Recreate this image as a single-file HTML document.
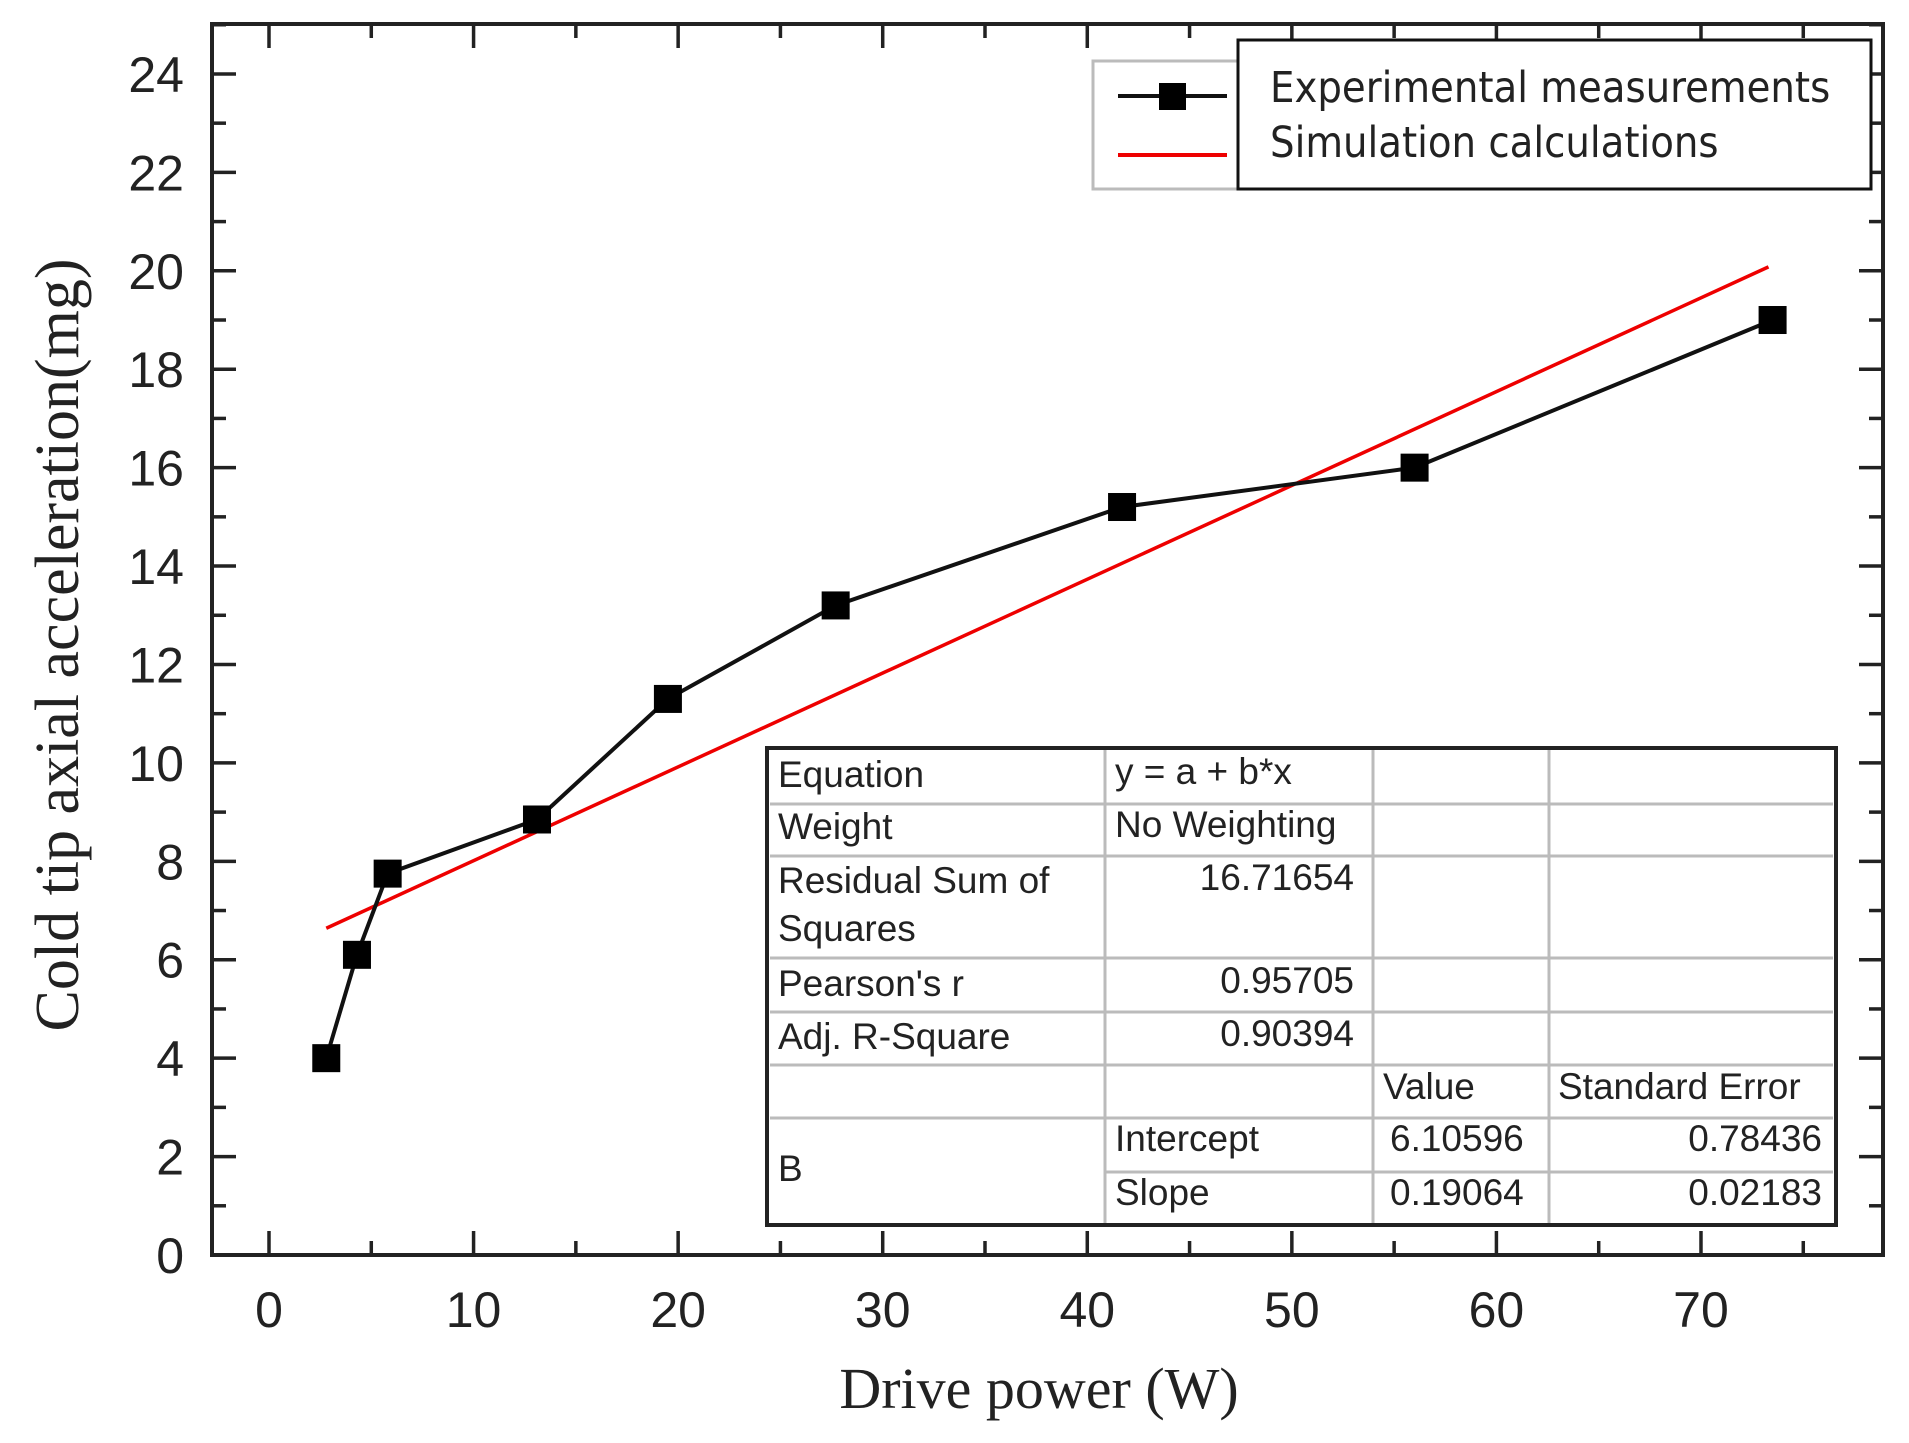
<!DOCTYPE html>
<html><head><meta charset="utf-8"><style>
html,body{margin:0;padding:0;background:#fff;}
svg{display:block;}
.t{font-family:"Liberation Sans",Arial,sans-serif;}
.s{font-family:"Liberation Serif",serif;}
</style></head><body>
<svg id="c" width="1909" height="1443" viewBox="0 0 1909 1443" xmlns="http://www.w3.org/2000/svg">
<rect x="0" y="0" width="1909" height="1443" fill="#fff"/>
<g id="ticks" stroke="#222" stroke-width="3.5"></g>
<rect x="212" y="24" width="1671" height="1231" fill="none" stroke="#222" stroke-width="4"/>
<g id="labels" class="t" font-size="50" fill="#222"></g>
<text class="s" x="1039" y="1408" font-size="58" text-anchor="middle" fill="#222">Drive power (W)</text>
<text class="s" x="0" y="0" font-size="62" text-anchor="middle" fill="#222" transform="translate(78,645) rotate(-90)">Cold tip axial acceleration(mg)</text>
<g id="series"></g>
<!-- legend -->
<rect x="1093" y="61" width="778" height="128" fill="#fff" stroke="#bbb" stroke-width="3"/>
<line x1="1118" y1="96" x2="1227" y2="96" stroke="#111" stroke-width="4"/>
<rect x="1159" y="83" width="27" height="27" fill="#000"/>
<line x1="1118" y1="155" x2="1227" y2="155" stroke="#e00" stroke-width="4"/>
<rect x="1238" y="40" width="633" height="149" fill="#fff" stroke="#111" stroke-width="3"/>
<text x="1270" y="102" font-size="43" fill="#222" font-family="'DejaVu Sans Condensed','DejaVu Sans',sans-serif">Experimental measurements</text>
<text x="1270" y="157" font-size="43" fill="#222" font-family="'DejaVu Sans Condensed','DejaVu Sans',sans-serif">Simulation calculations</text>
<!-- table -->
<g>
<rect x="767" y="748" width="1069" height="477" fill="#fff" stroke="#222" stroke-width="4"/>
<g stroke="#bbb" stroke-width="3">
<line x1="770" y1="804" x2="1833" y2="804"/>
<line x1="770" y1="856" x2="1833" y2="856"/>
<line x1="770" y1="958" x2="1833" y2="958"/>
<line x1="770" y1="1012" x2="1833" y2="1012"/>
<line x1="770" y1="1065" x2="1833" y2="1065"/>
<line x1="770" y1="1118" x2="1833" y2="1118"/>
<line x1="1105" y1="1172" x2="1833" y2="1172"/>
<line x1="1105" y1="750" x2="1105" y2="1223"/>
<line x1="1373" y1="750" x2="1373" y2="1223"/>
<line x1="1549" y1="750" x2="1549" y2="1223"/>
</g>
<g class="t" font-size="37" fill="#222">
<text x="778" y="787">Equation</text>
<text x="1115" y="784">y = a + b*x</text>
<text x="778" y="839">Weight</text>
<text x="1115" y="837">No Weighting</text>
<text x="778" y="893">Residual Sum of</text>
<text x="778" y="941">Squares</text>
<text x="1354" y="890" text-anchor="end">16.71654</text>
<text x="778" y="996">Pearson's r</text>
<text x="1354" y="993" text-anchor="end">0.95705</text>
<text x="778" y="1049">Adj. R-Square</text>
<text x="1354" y="1046" text-anchor="end">0.90394</text>
<text x="1383" y="1099">Value</text>
<text x="1558" y="1099">Standard Error</text>
<text x="778" y="1181">B</text>
<text x="1115" y="1151">Intercept</text>
<text x="1390" y="1151">6.10596</text>
<text x="1822" y="1151" text-anchor="end">0.78436</text>
<text x="1115" y="1205">Slope</text>
<text x="1390" y="1205">0.19064</text>
<text x="1822" y="1205" text-anchor="end">0.02183</text>
</g>
</g>
</svg>
<script>
var NS="http://www.w3.org/2000/svg";
function X(v){return 269+v*20.457;}
function Y(v){return 1255-v*49.21;}
function el(p,n,a,t){var e=document.createElementNS(NS,n);for(var k in a)e.setAttribute(k,a[k]);if(t!=null)e.textContent=t;document.getElementById(p).appendChild(e);return e;}
for(var v=0;v<=75;v+=5){var x=X(v),L=(v%10==0)?24:14;
 el("ticks","line",{x1:x,y1:1255,x2:x,y2:1255-L});
 el("ticks","line",{x1:x,y1:24,x2:x,y2:24+L});
 if(v%10==0) el("labels","text",{x:x,y:1327,"text-anchor":"middle"},String(v));}
for(var v=0;v<=25;v+=1){var y=Y(v),L=(v%2==0)?24:14;
 el("ticks","line",{x1:212,y1:y,x2:212+L,y2:y});
 el("ticks","line",{x1:1883,y1:y,x2:1883-L,y2:y});
 if(v%2==0) el("labels","text",{x:184,y:y+18,"text-anchor":"end"},String(v));}
var d=[[2.8,4],[4.3,6.1],[5.8,7.75],[13.1,8.85],[19.5,11.3],[27.7,13.2],[41.7,15.2],[56,16],[73.5,19]];
el("series","line",{x1:X(2.8),y1:Y(6.64),x2:X(73.3),y2:Y(20.08),stroke:"#e00","stroke-width":3.5});
el("series","polyline",{points:d.map(function(p){return X(p[0])+","+Y(p[1]);}).join(" "),fill:"none",stroke:"#111","stroke-width":4});
d.forEach(function(p){el("series","rect",{x:X(p[0])-14,y:Y(p[1])-14,width:28,height:28,fill:"#000"});});
</script>
</body></html>
